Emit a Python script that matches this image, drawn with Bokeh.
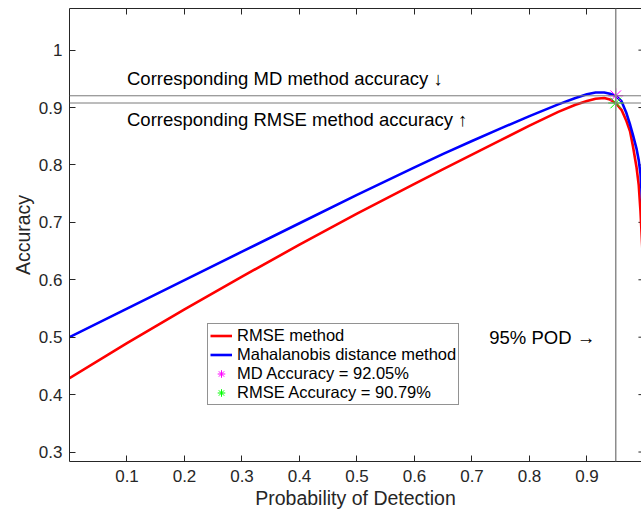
from bokeh.plotting import figure
from bokeh.models import (Range1d, FixedTicker, LinearAxis, Span, Label, Legend,
                          LegendItem, CustomJSTickFormatter)
from bokeh.embed import file_html
from bokeh.resources import INLINE

# ---- data ----
pod = [0.0, 0.1, 0.2, 0.3, 0.4, 0.5, 0.6, 0.65, 0.7, 0.75, 0.8, 0.85, 0.88, 0.9,
       0.915, 0.93, 0.94, 0.95, 0.96, 0.968, 0.975, 0.98, 0.986, 0.99, 0.993,
       0.996, 1.0]
md_acc = [0.500, 0.5497, 0.5994, 0.649, 0.6985, 0.7478, 0.7958, 0.8193, 0.8418, 0.8637,
          0.885, 0.9055, 0.9165, 0.923, 0.9262, 0.9262, 0.924, 0.9205, 0.911, 0.892,
          0.870, 0.852, 0.829, 0.808, 0.785, 0.737, 0.62]
rmse_acc = [0.4286, 0.4896, 0.5486, 0.6056, 0.6611, 0.7151, 0.7671, 0.7926, 0.8179, 0.8431,
            0.8684, 0.8925, 0.9048, 0.9115, 0.9152, 0.9166, 0.9138, 0.9079, 0.896, 0.878,
            0.858, 0.832, 0.797, 0.765, 0.720, 0.660, 0.55]
pod_target = [0.95]
md_point = [0.9205]
rmse_point = [0.9079]
x_ticks = [0.1, 0.2, 0.3, 0.4, 0.5, 0.6, 0.7, 0.8, 0.9, 1.0]
y_ticks = [0.3, 0.4, 0.5, 0.6, 0.7, 0.8, 0.9, 1.0]

FONT = "Liberation Sans"
AX = "#262626"

p = figure(width=641, height=512, output_backend="svg", toolbar_location=None,
           x_range=Range1d(0, 0.9948), y_range=Range1d(0.2835, 1.0725),
           min_border_left=69, min_border_right=0, min_border_top=8, min_border_bottom=51)
p.outline_line_color = None
p.grid.visible = False
p.background_fill_color = "white"

fmt = CustomJSTickFormatter(code="return (Math.abs(tick-1)<1e-9) ? '1' : tick.toFixed(1);")
for ax, ticks in ((p.xaxis[0], x_ticks), (p.yaxis[0], y_ticks)):
    ax.ticker = FixedTicker(ticks=ticks)
    ax.formatter = fmt
    ax.major_tick_in = 6
    ax.major_tick_out = 0
    ax.minor_tick_line_color = None
    ax.axis_line_color = AX
    ax.major_tick_line_color = AX
    ax.major_label_text_font = FONT
    ax.major_label_text_font_size = "17px"
    ax.major_label_text_color = AX
    ax.axis_label_text_font = FONT
    ax.axis_label_text_font_size = "19.5px"
    ax.axis_label_text_font_style = "normal"
    ax.axis_label_text_color = AX

p.xaxis.axis_label = "Probability of Detection"
p.yaxis.axis_label = "Accuracy"
p.xaxis.major_label_standoff = 8
p.xaxis.axis_label_standoff = 2
p.yaxis.major_label_standoff = 7
p.yaxis.axis_label_standoff = 2

# top border with inward ticks
top = LinearAxis(ticker=FixedTicker(ticks=x_ticks), major_tick_in=6, major_tick_out=0,
                 major_label_text_font_size="0px", major_label_standoff=0,
                 minor_tick_line_color=None, axis_line_color=AX, major_tick_line_color=AX)
p.add_layout(top, "above")

# right-side inward ticks (spine lies just outside the window)
p.segment(x0=[0.9895] * len(y_ticks), y0=y_ticks, x1=[1.0] * len(y_ticks), y1=y_ticks,
          line_color=AX, line_width=1)

# reference lines
p.add_layout(Span(location=md_point[0], dimension="width", line_color="#7a7a7a", line_width=1))
p.add_layout(Span(location=rmse_point[0], dimension="width", line_color="#7a7a7a", line_width=1))
p.add_layout(Span(location=pod_target[0], dimension="height", line_color="#8c8c8c", line_width=1.5))

r_rmse = p.line(pod, rmse_acc, line_color="#ff0000", line_width=2.6)
r_md = p.line(pod, md_acc, line_color="#0000ff", line_width=2.6)
r_mdp = p.scatter(pod_target, md_point, marker="asterisk", size=15, line_color="#ff00ff", line_width=1)
r_rmsep = p.scatter(pod_target, rmse_point, marker="asterisk", size=15, line_color="#00ff00", line_width=1)

legend = Legend(items=[
    LegendItem(label="RMSE method", renderers=[r_rmse]),
    LegendItem(label="Mahalanobis distance method", renderers=[r_md]),
    LegendItem(label="MD Accuracy = 92.05%", renderers=[r_mdp]),
    LegendItem(label="RMSE Accuracy = 90.79%", renderers=[r_rmsep]),
], location=(138, 56))
legend.border_line_color = AX
legend.border_line_width = 1
legend.background_fill_color = "white"
legend.background_fill_alpha = 1
legend.padding = 2
legend.spacing = 0
legend.margin = 0
legend.glyph_width = 22
legend.glyph_height = 19
legend.label_height = 19
legend.label_standoff = 5
legend.label_text_font = FONT
legend.label_text_font_size = "16.5px"
legend.label_text_color = "black"
p.add_layout(legend, "center")

for txt, x, y in (("Corresponding MD method accuracy \u2193", 0.1, 0.95),
                  ("Corresponding RMSE method accuracy \u2191", 0.1, 0.88),
                  ("95% POD \u2192", 0.73, 0.5)):
    p.add_layout(Label(x=x, y=y, text=txt, text_font=FONT, text_font_size="18.5px",
                       text_color="black", text_baseline="middle", text_align="left"))

open("out.html", "w").write(file_html(p, INLINE))
